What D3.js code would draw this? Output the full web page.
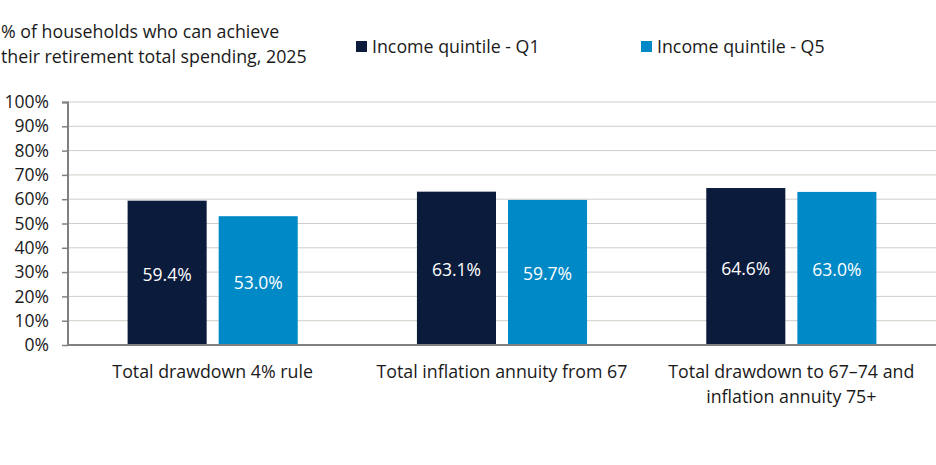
<!DOCTYPE html>
<html>
<head>
<meta charset="utf-8">
<script src="https://cdn.jsdelivr.net/npm/d3@7"></script>
<style>
  body { margin: 0; background: #fff; }
  svg text { font-family: "Open Sans", "Noto Sans", sans-serif; fill: #1a1a1a; }
</style>
</head>
<body>
<div id="chart"></div>
<script>
const categories = [
  ["Total drawdown 4% rule"],
  ["Total inflation annuity from 67"],
  ["Total drawdown to 67\u201374 and", "inflation annuity 75+"]
];
const seriesNames = ["Income quintile - Q1", "Income quintile - Q5"];
const q1Values = [59.4, 63.1, 64.6];
const q5Values = [53.0, 59.7, 63.0];
const yTicks = [0, 10, 20, 30, 40, 50, 60, 70, 80, 90, 100];
const titleLines = ["% of households who can achieve", "their retirement total spending, 2025"];

const colors = ["#0b1b3b", "#0089c7"];

const W = 936, H = 465;
const margin = { top: 102, right: 0, bottom: 120, left: 68 },
      width = W - margin.left - margin.right,
      height = H - margin.top - margin.bottom;   // 243

const svg = d3.select("#chart").append("svg")
    .attr("width", W)
    .attr("height", H);

// Title
svg.append("text")
    .attr("x", 1)
    .attr("y", 38)
    .style("font-size", "17.8px")
    .selectAll("tspan")
    .data(titleLines)
    .enter().append("tspan")
    .attr("x", 1)
    .attr("dy", (d, i) => i === 0 ? 0 : 25)
    .text(d => d);

// Legend
const legendX = [356, 641];
const legend = svg.selectAll(".legend")
    .data(seriesNames)
    .enter().append("g")
    .attr("transform", (d, i) => `translate(${legendX[i]},41)`);
legend.append("rect")
    .attr("width", 11).attr("height", 11)
    .attr("fill", (d, i) => colors[i]);
legend.append("text")
    .attr("x", 16).attr("y", 11.5)
    .style("font-size", "17.8px")
    .text(d => d);

const g = svg.append("g")
    .attr("transform", `translate(${margin.left},${margin.top})`);

// Scales
const x0 = d3.scaleBand()
    .domain(d3.range(categories.length))
    .range([0, width])
    .paddingInner(0.412)
    .paddingOuter(0.206);
const x1 = d3.scaleBand()
    .domain([0, 1])
    .range([0, x0.bandwidth()])
    .paddingInner(0.132);
const y = d3.scaleLinear().domain([0, 100]).range([height, 0]);

// Gridlines
g.append("g")
    .selectAll("line")
    .data(yTicks.filter(t => t > 0))
    .enter().append("line")
    .attr("x1", 0).attr("x2", width)
    .attr("y1", d => y(d)).attr("y2", d => y(d))
    .attr("stroke", "#d0cec8")
    .attr("stroke-width", 1);

// Y axis
const yAxis = g.append("g")
    .call(d3.axisLeft(y).tickValues(yTicks).tickSize(6).tickFormat(d => d + "%"));
yAxis.select(".domain").attr("stroke", "#808080").attr("stroke-width", 2).attr("d", `M-6,0.5H0V${height}`);
yAxis.selectAll(".tick line").attr("stroke", "#808080").attr("stroke-width", 1.5);
yAxis.selectAll(".tick text")
    .attr("x", -19)
    .style("font-size", "17.5px")
    .style("font-family", "'Open Sans', 'Noto Sans', sans-serif")
    .attr("fill", "#1a1a1a");

// Bars
const data = categories.map((c, i) => ({ i, values: [q1Values[i], q5Values[i]] }));
const groups = g.selectAll(".grp")
    .data(data)
    .enter().append("g")
    .attr("transform", d => `translate(${x0(d.i)},0)`);

groups.selectAll("rect")
    .data(d => d.values.map((v, s) => ({ v, s })))
    .enter().append("rect")
    .attr("x", d => x1(d.s))
    .attr("y", d => y(d.v))
    .attr("width", x1.bandwidth())
    .attr("height", d => height - y(d.v))
    .attr("fill", d => colors[d.s]);

groups.selectAll(".val")
    .data(d => d.values.map((v, s) => ({ v, s })))
    .enter().append("text")
    .attr("x", d => x1(d.s) + x1.bandwidth() / 2)
    .attr("y", d => (y(d.v) + height) / 2 + 8)
    .attr("text-anchor", "middle")
    .style("font-size", "17.5px")
    .style("fill", "#fff")
    .text(d => d.v.toFixed(1) + "%");

// Baseline
g.append("line")
    .attr("x1", 0).attr("x2", width)
    .attr("y1", height).attr("y2", height)
    .attr("stroke", "#808080")
    .attr("stroke-width", 2);

// Category labels
g.selectAll(".cat")
    .data(categories)
    .enter().append("text")
    .attr("text-anchor", "middle")
    .attr("y", height + 33)
    .style("font-size", "17.8px")
    .selectAll("tspan")
    .data((d, i) => d.map(line => ({ line, i })))
    .enter().append("tspan")
    .attr("x", d => x0(d.i) + x0.bandwidth() / 2)
    .attr("dy", (d, j) => j === 0 ? 0 : 25)
    .text(d => d.line);
</script>
</body>
</html>
